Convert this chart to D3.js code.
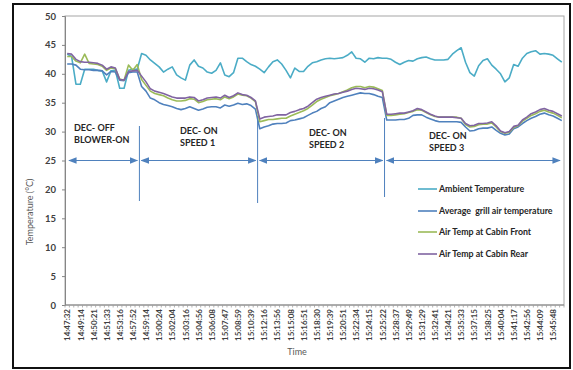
<!DOCTYPE html>
<html>
<head>
<meta charset="utf-8">
<script src="https://cdn.jsdelivr.net/npm/d3@7"></script>
<style>
  html, body { margin: 0; padding: 0; background: #fff; }
  svg { display: block; }
  text { font-family: Lato, "Open Sans", sans-serif; }
</style>
</head>
<body>
<svg id="chart" width="573" height="370"></svg>
<script>
// Time-axis labels (every third sample is labelled)
const timeLabels = [
  "14:47:32","14:49:14","14:50:21","14:51:33","14:53:16","14:57:52","14:59:14",
  "15:00:24","15:02:04","15:03:16","15:04:56","15:06:08","15:07:47","15:08:59",
  "15:10:39","15:12:16","15:13:56","15:15:08","15:16:51","15:18:30","15:19:39",
  "15:20:51","15:22:34","15:24:15","15:25:22","15:28:37","15:29:49","15:31:29",
  "15:32:41","15:34:21","15:35:33","15:37:15","15:38:25","15:40:04","15:41:17",
  "15:42:56","15:44:09","15:45:48"
];
const labelEvery = 3;

// Temperatures (°C), one reading per sample
const ambient = [
  43.4,43.0,38.2,38.2,40.8,40.8,40.8,40.6,40.5,38.6,40.5,40.6,37.5,37.5,40.6,40.8,40.8,
  43.5,43.2,42.4,41.8,41.2,40.3,40.8,41.2,39.8,39.3,38.9,41.5,42.4,41.3,41.0,40.3,40.1,40.6,41.9,39.8,39.5,40.2,42.7,42.7,42.1,41.6,41.3,
  40.8,40.2,41.2,42.1,42.4,41.7,40.6,39.3,41.0,40.4,40.4,41.3,41.9,42.1,42.4,42.6,42.7,42.6,42.7,42.8,43.2,43.8,42.7,42.6,42.0,42.7,42.6,42.8,42.7,
  42.7,42.5,42.0,41.6,42.0,42.3,42.2,42.6,42.8,42.9,42.6,42.4,42.4,42.4,42.5,43.4,44.0,44.5,42.0,40.2,39.6,41.4,42.3,42.6,41.5,40.8,40.0,38.6,39.3,41.6,41.3,42.7,43.5,43.8,44.0,43.4,43.5,43.4,43.2,42.6,42.0
];
const grill = [
  41.7,41.7,41.5,40.8,40.7,40.7,40.6,40.6,40.5,39.8,40.4,40.3,38.9,38.8,40.2,40.3,40.3,
  37.8,37.0,35.8,35.5,35.0,34.7,34.5,34.3,34.0,33.8,34.0,34.3,34.0,33.7,33.9,34.2,34.3,34.3,34.1,34.6,34.4,34.6,34.9,34.7,34.8,34.5,33.9,
  30.5,30.8,31.0,31.3,31.4,31.4,31.5,31.9,32.0,32.2,32.4,32.8,33.2,33.5,34.0,34.3,35.0,35.3,35.6,35.9,36.1,36.3,36.5,36.7,36.6,36.6,36.4,36.1,35.9,
  32.0,32.0,32.0,32.1,32.1,32.3,32.8,32.9,32.9,32.5,32.2,31.9,31.7,31.7,31.7,31.7,31.7,31.6,30.8,30.1,30.2,30.5,30.6,30.6,30.8,30.2,29.7,29.4,29.6,30.5,30.8,31.4,31.9,32.3,32.6,33.0,33.2,32.9,32.7,32.3,31.9
];
const cabinFront = [
  43.0,43.0,42.2,41.9,43.4,41.8,41.7,41.6,41.3,40.6,41.0,40.9,39.1,38.9,41.5,40.6,41.6,
  39.0,38.0,37.0,36.6,36.4,36.2,35.8,35.5,35.3,35.3,35.4,35.7,35.6,35.0,35.2,35.5,35.6,35.7,35.5,36.0,35.7,36.0,36.5,36.3,36.2,35.8,35.2,
  31.7,31.9,32.1,32.1,32.2,32.3,32.3,32.7,33.0,33.3,33.6,34.0,34.6,35.2,35.6,35.9,36.2,36.4,36.6,36.9,37.2,37.6,37.8,37.8,37.6,37.8,37.7,37.4,37.1,
  32.8,32.8,32.9,33.0,33.1,33.3,33.5,33.8,33.7,33.3,32.9,32.6,32.5,32.5,32.5,32.5,32.5,32.3,31.2,30.8,30.9,31.2,31.3,31.3,31.5,30.8,30.0,29.7,29.9,30.7,31.0,31.8,32.3,32.8,33.1,33.5,33.7,33.4,33.2,32.8,32.4
];
const cabinRear = [
  43.5,43.4,42.5,42.1,42.0,42.0,41.9,41.8,41.5,40.8,41.2,41.0,39.0,38.9,40.4,40.5,40.6,
  39.6,38.6,37.4,37.0,36.8,36.6,36.3,36.0,35.8,35.8,35.8,36.0,35.9,35.3,35.5,35.8,35.9,36.0,35.8,36.3,35.9,36.2,36.7,36.4,36.3,35.9,35.3,
  32.2,32.5,32.6,32.7,32.9,32.9,32.9,33.3,33.5,33.8,34.0,34.4,35.0,35.6,35.9,36.1,36.3,36.5,36.6,36.8,37.0,37.3,37.5,37.4,37.3,37.5,37.4,37.2,36.9,
  33.0,33.0,33.1,33.2,33.2,33.4,33.6,34.0,33.8,33.4,33.0,32.7,32.5,32.5,32.5,32.5,32.4,32.3,31.4,31.0,31.1,31.4,31.4,31.5,31.7,31.0,30.1,29.8,30.0,30.9,31.1,32.0,32.5,33.1,33.4,33.8,34.0,33.7,33.5,33.1,32.7
];

const seriesNames = ["Ambient Temperature", "Average  grill air temperature", "Air Temp at Cabin Front", "Air Temp at Cabin Rear"];
const seriesColors = ["#4bacc6", "#4f81bd", "#9bbb59", "#8064a2"];
const yTicks = [0, 5, 10, 15, 20, 25, 30, 35, 40, 45, 50];

// Operating phases: first sample index, last sample index, caption lines
const phaseStarts = [0, 17, 44, 73];
const phaseCaptions = [["DEC- OFF", "BLOWER-ON"], ["DEC- ON", "SPEED 1"], ["DEC- ON", "SPEED 2"], ["DEC- ON", "SPEED 3"]];

const svg = d3.select("#chart");
const n = ambient.length;
const plot = { left: 65, right: 564, top: 16, bottom: 305 };

const x = d3.scalePoint().domain(d3.range(n)).range([plot.left, plot.right]).padding(0.5);
const step = x.step();
const y = d3.scaleLinear().domain([0, 50]).range([plot.bottom, plot.top]);

// outer frame
svg.append("rect").attr("x", 13).attr("y", 4).attr("width", 557).attr("height", 364)
  .attr("fill", "none").attr("stroke", "#111").attr("stroke-width", 2);

// plot area border
svg.append("rect").attr("x", plot.left).attr("y", plot.top)
  .attr("width", plot.right - plot.left).attr("height", plot.bottom - plot.top)
  .attr("fill", "none").attr("stroke", "#a6a6a6").attr("stroke-width", 1);

// y axis
const yAxis = svg.append("g").attr("transform", `translate(${plot.left},0)`)
  .call(d3.axisLeft(y).tickValues(yTicks).tickSize(3).tickPadding(6));
yAxis.select(".domain").attr("stroke", "#868686");
yAxis.selectAll(".tick line").attr("stroke", "#868686");
yAxis.selectAll(".tick text").attr("font-size", 9.5).attr("font-weight", "bold").attr("fill", "#404040")
  .attr("font-family", "Lato, sans-serif");

// x axis: small ticks between samples, labels every third sample
const xg = svg.append("g");
xg.append("line").attr("x1", plot.left).attr("x2", plot.right).attr("y1", plot.bottom).attr("y2", plot.bottom)
  .attr("stroke", "#868686");
xg.selectAll("line.tk").data(d3.range(n + 1)).join("line").attr("class", "tk")
  .attr("x1", i => plot.left + i * step).attr("x2", i => plot.left + i * step)
  .attr("y1", plot.bottom).attr("y2", plot.bottom + 2.5)
  .attr("stroke", "#a0a0a0").attr("stroke-width", 0.8);
xg.selectAll("text").data(timeLabels).join("text")
  .attr("transform", (d, k) => `translate(${x(k * labelEvery) + 3.2},309) rotate(-90)`)
  .attr("text-anchor", "end")
  .attr("font-size", 8).attr("font-weight", "bold").attr("fill", "#404040")
  .text(d => d);

// axis titles
svg.append("text").attr("transform", "translate(33,212) rotate(-90)")
  .attr("text-anchor", "middle").attr("font-size", 9).attr("fill", "#595959").text("Temperature (°C)");
svg.append("text").attr("x", 297).attr("y", 355)
  .attr("text-anchor", "middle").attr("font-size", 9).attr("fill", "#595959").text("Time");

// phase markers
const accent = "#4f81bd";
const defs = svg.append("defs");
defs.append("marker").attr("id", "arrow").attr("viewBox", "0 0 10 10").attr("refX", 9).attr("refY", 5)
  .attr("markerWidth", 7).attr("markerHeight", 7).attr("orient", "auto-start-reverse")
  .append("path").attr("d", "M0,1 L10,5 L0,9 Z").attr("fill", accent);

const boundaries = phaseStarts.slice(1).map(i => (x(i - 1) + x(i)) / 2);
const vTops = [126, 116, 118];
const vBottoms = [201, 203, 197];
svg.selectAll("line.vb").data(boundaries).join("line").attr("class", "vb")
  .attr("x1", d => d).attr("x2", d => d)
  .attr("y1", (d, k) => vTops[k]).attr("y2", (d, k) => vBottoms[k])
  .attr("stroke", accent).attr("stroke-width", 1);

const edges = [plot.left + 2].concat(boundaries).concat([plot.right - 2]);
const arrowY = y(25);
for (let k = 0; k < phaseStarts.length; k++) {
  svg.append("line")
    .attr("x1", edges[k] + 2).attr("x2", edges[k + 1] - 2)
    .attr("y1", arrowY).attr("y2", arrowY)
    .attr("stroke", accent).attr("stroke-width", 1.2)
    .attr("marker-start", "url(#arrow)").attr("marker-end", "url(#arrow)");
}
const captionPos = [[74, 131], [180, 134], [309, 136], [429, 139]];
phaseCaptions.forEach((lines, k) => {
  const t = svg.append("text").attr("x", captionPos[k][0]).attr("y", captionPos[k][1])
    .attr("font-size", 9).attr("font-weight", "bold").attr("fill", "#262626");
  lines.forEach((s, j) => t.append("tspan").attr("x", captionPos[k][0]).attr("dy", j ? 12 : 0).text(s));
});

// temperature lines
const line = d3.line().x((d, i) => x(i)).y(d => y(d));
const allSeries = [ambient, grill, cabinFront, cabinRear];
[0, 1, 2, 3].forEach(s => {
  svg.append("path").datum(allSeries[s])
    .attr("d", line).attr("fill", "none")
    .attr("stroke", seriesColors[s]).attr("stroke-width", 1.6)
    .attr("stroke-linejoin", "round");
});

// legend
const legendY = [189, 211, 232, 254];
const lg = svg.append("g");
seriesNames.forEach((name, s) => {
  lg.append("line").attr("x1", 418).attr("x2", 437).attr("y1", legendY[s]).attr("y2", legendY[s])
    .attr("stroke", seriesColors[s]).attr("stroke-width", 1.6);
  lg.append("text").attr("x", 439).attr("y", legendY[s]).attr("dy", "0.35em")
    .attr("font-size", 8.8).attr("font-weight", "bold").attr("fill", "#262626")
    .attr("xml:space", "preserve").style("white-space", "pre").text(name);
});
</script>
</body>
</html>
